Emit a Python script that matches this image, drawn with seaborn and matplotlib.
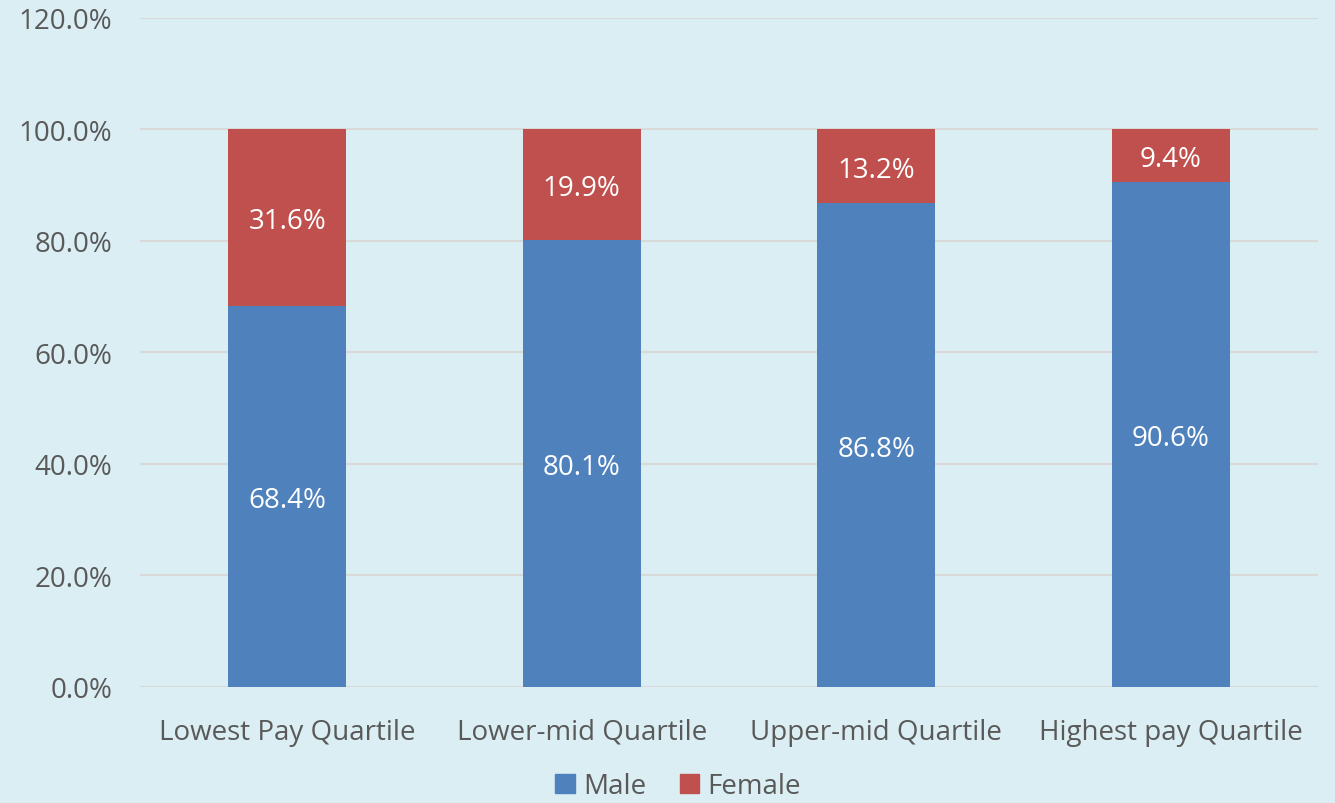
import numpy as np
import pandas as pd
import matplotlib
matplotlib.use('Agg')
import matplotlib.pyplot as plt
import seaborn as sns
from matplotlib.patches import Patch
from matplotlib.ticker import FuncFormatter

# data
quartiles = ['Lowest Pay Quartile', 'Lower-mid Quartile', 'Upper-mid Quartile', 'Highest pay Quartile']
male = [68.4, 80.1, 86.8, 90.6]
female = [31.6, 19.9, 13.2, 9.4]

sns.set_style('white')
plt.rcParams['font.family'] = ['Open Sans', 'DejaVu Sans']

bg = '#DAEEF3'
blue = '#4F81BD'
red = '#C0504D'
txt = '#595959'

df = pd.DataFrame({'quartile': quartiles, 'male': male, 'female': female})
df['total'] = df['male'] + df['female']

fig = plt.figure(figsize=(13.35, 8.04), dpi=100, facecolor=bg)
ax = fig.add_axes([0.1049, 0.1443, 0.8824, 0.8321])
ax.set_facecolor(bg)

# female stacked on male -> draw totals first in red, then male on top
sns.barplot(data=df, x='quartile', y='total', color=red, width=0.4, saturation=1,
            linewidth=0, ax=ax)
sns.barplot(data=df, x='quartile', y='male', color=blue, width=0.4, saturation=1,
            linewidth=0, ax=ax)

for i, (m, f) in enumerate(zip(male, female)):
    ax.text(i, m / 2, f'{m:.1f}%', ha='center', va='center_baseline', color='white', fontsize=20)
    ax.text(i, m + f / 2, f'{f:.1f}%', ha='center', va='center_baseline', color='white', fontsize=20)

ax.set_xlim(-0.5, 3.5)
ax.set_ylim(0, 120)
ax.set_yticks(np.arange(0, 121, 20))
ax.yaxis.set_major_formatter(FuncFormatter(lambda v, p: f'{v:.1f}%'))
ax.grid(axis='y', color='#D9D9D9', linewidth=1.5)
ax.set_axisbelow(True)
sns.despine(ax=ax, left=True, bottom=True)
ax.tick_params(axis='both', length=0, labelsize=20, labelcolor=txt)
ax.tick_params(axis='y', pad=20)
ax.tick_params(axis='x', pad=22)
ax.set_xlabel('')
ax.set_ylabel('')

handles = [Patch(color=blue, label='Male'), Patch(color=red, label='Female')]
fig.legend(handles=handles, loc='center', bbox_to_anchor=(0.508, 0.021), ncol=2, frameon=False,
           fontsize=20, labelcolor=txt, handlelength=0.7, handleheight=0.7, handletextpad=0.3,
           columnspacing=1.2, borderpad=0.1)

fig.savefig('out.png', dpi=100, facecolor=bg)
